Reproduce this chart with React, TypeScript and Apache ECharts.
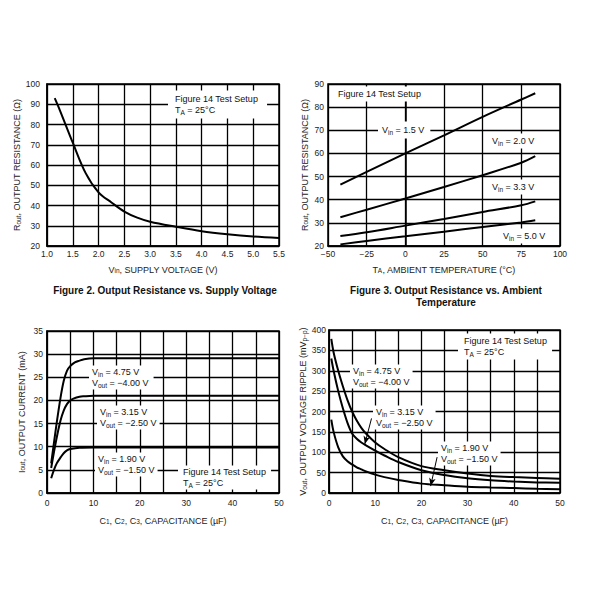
import React, { useEffect, useRef } from 'react';
import * as echarts from 'echarts';

const FONT = '"Liberation Sans", Arial, Helvetica, sans-serif';

// Figure 2: output resistance vs supply voltage
const fig2Vin = [1.15, 1.25, 1.5, 1.75, 2.0, 2.25, 2.5, 2.75, 3.0, 3.5, 4.0, 4.5, 5.0, 5.5];
const fig2Rout = [93, 87, 71, 56, 46.5, 41.5, 37, 34, 32, 29.5, 27.3, 25.8, 24.7, 24];

// Figure 3: output resistance vs ambient temperature
const fig3Temp = [-42, -25, 0, 25, 50, 75, 84];
const fig3Vin15 = [46.5, 52, 60, 67.8, 75.8, 83.3, 86];
const fig3Vin20 = [32.4, 35.7, 40.5, 45.5, 50.6, 56, 58.8];
const fig3Vin33 = [24.3, 25.9, 28.8, 31.7, 34.7, 37.6, 39.3];
const fig3Vin50 = [20.7, 22.2, 24.2, 26.2, 28.2, 30.2, 31.1];

// Output current vs capacitance
const iCap475 = [0.9, 2, 2.9, 3.6, 4.3, 5, 6, 7, 8, 10, 50];
const iOut475 = [6.4, 14.5, 20.5, 24.2, 26.4, 27.4, 28.2, 28.6, 28.9, 29.1, 29.1];
const iCap315 = [0.9, 2, 2.9, 3.6, 4.3, 5, 5.7, 7, 8, 10, 50];
const iOut315 = [5.4, 11.5, 15.6, 17.8, 19.2, 20, 20.4, 20.8, 20.9, 21, 21];
const iCap190 = [0.9, 1.5, 2.1, 3, 3.6, 4.3, 5, 7, 10, 50];
const iOut190 = [3.2, 5, 6.4, 7.8, 8.6, 9.2, 9.5, 9.8, 9.85, 9.85];

// Output voltage ripple vs capacitance
const rCap = [0.5, 1, 2, 3, 4, 5, 6, 7, 8, 10, 12, 15, 20, 25, 30, 35, 40, 45, 50];
const ripple475 = [378, 345, 300, 262, 228, 200, 178, 160, 146, 124, 108, 88, 66, 56, 48, 42, 39, 37, 35];
const ripple315 = [330, 300, 250, 208, 172, 146, 133, 124, 117, 104, 92, 76, 56, 44, 36, 31, 28, 26, 25];
const ripple190 = [180, 150, 112, 90, 78, 70, 63, 58, 53, 45, 39, 32, 23, 19, 15.5, 13.5, 12, 10.5, 9.5];

// annotation arrows (data coordinates of ripple chart)
const arrow315 = [[9.2, 183], [7.75, 120]];
const arrow190 = [[23.4, 88], [22, 17]];

const pairs = (xs: number[], ys: number[]) => xs.map((x, i) => [x, ys[i]]);

const richAxis = {
  s: { fontSize: 6.5, fontFamily: FONT, color: '#222', verticalAlign: 'bottom', lineHeight: 6 },
};
const richG = {
  s: { fontSize: 6.5, fontFamily: FONT, fill: '#111', verticalAlign: 'bottom', lineHeight: 6 },
};

const fmtNeg = (v: number) => (v < 0 ? '\u2212' + Math.abs(v) : String(v));

function xAxis(gi: number, min: number, max: number, interval: number, name: string, nameGap: number, margin: number, fmt: (v: number) => string) {
  return {
    type: 'value', gridIndex: gi, min, max, interval,
    name, nameLocation: 'middle', nameGap,
    nameTextStyle: { fontFamily: FONT, fontSize: 9, color: '#222', rich: richAxis },
    axisLine: { show: true, lineStyle: { color: '#000', width: 1.5 } },
    axisTick: { show: false },
    axisLabel: { fontFamily: FONT, fontSize: 8.5, color: '#222', margin, formatter: fmt, showMinLabel: true, showMaxLabel: true },
    splitLine: { show: true, lineStyle: { color: '#000', width: 1.3 } },
  };
}
function yAxis(gi: number, min: number, max: number, interval: number, name: string, nameGap: number, margin: number) {
  return {
    type: 'value', gridIndex: gi, min, max, interval,
    name, nameLocation: 'middle', nameGap, nameRotate: 90,
    nameTextStyle: { fontFamily: FONT, fontSize: 9, color: '#222', rich: richAxis },
    axisLine: { show: true, lineStyle: { color: '#000', width: 1.5 } },
    axisTick: { show: false },
    axisLabel: { fontFamily: FONT, fontSize: 8.5, color: '#222', margin },
    splitLine: { show: true, lineStyle: { color: '#000', width: 1.3 } },
  };
}

function line(xi: number, data: number[][], extra: any = {}) {
  return {
    type: 'line', xAxisIndex: xi, yAxisIndex: xi, data,
    smooth: 0.35, showSymbol: false, symbol: 'none',
    lineStyle: { color: '#000', width: 2 }, silent: true, z: 3,
    ...extra,
  };
}

function label(cx: number, cy: number, text: string, pad: number[] = [1, 3, 1, 3]) {
  return {
    type: 'text', x: cx - pad[3], y: cy - 5.5 - pad[0], z: 10,
    style: {
      text, fontFamily: FONT, fontSize: 9, fill: '#111', lineHeight: 11,
      backgroundColor: '#fff', padding: pad, align: 'left', verticalAlign: 'top', rich: richG,
    },
  };
}
function caption(cx: number, cy: number, text: string) {
  return {
    type: 'text', x: cx, y: cy, z: 10,
    style: { text, fontFamily: FONT, fontSize: 10, fontWeight: 'bold', fill: '#111', align: 'center', verticalAlign: 'middle' },
  };
}

function arrowLine(pts: number[][]) {
  return {
    silent: true, symbol: ['none', 'arrow'], symbolSize: [5, 8],
    lineStyle: { color: '#000', width: 1, type: 'solid' }, label: { show: false },
    data: [[{ coord: pts[0] }, { coord: pts[1] }]],
  };
}

const option: any = {
  animation: false,
  backgroundColor: '#fff',
  grid: [
    { left: 47, top: 84, width: 232, height: 162 },
    { left: 328, top: 84, width: 232, height: 162 },
    { left: 47, top: 331, width: 232, height: 162 },
    { left: 329, top: 330, width: 231, height: 163 },
  ].map((g) => ({ ...g, show: true, borderColor: '#000', borderWidth: 1.5, backgroundColor: 'transparent' })),
  xAxis: [
    xAxis(0, 1, 5.5, 0.5, 'V{s|in}, SUPPLY VOLTAGE (V)', 19, 3, (v) => v.toFixed(1)),
    xAxis(1, -50, 100, 25, 'T{s|A}, AMBIENT TEMPERATURE (\u00B0C)', 19, 3, fmtNeg),
    xAxis(2, 0, 50, 5, 'C{s|1}, C{s|2}, C{s|3}, CAPACITANCE (\u00B5F)', 23, 5, (v) => (v % 10 === 0 ? String(v) : '')),
    xAxis(3, 0, 50, 5, 'C{s|1}, C{s|2}, C{s|3}, CAPACITANCE (\u00B5F)', 23, 5, (v) => (v % 10 === 0 ? String(v) : '')),
  ],
  yAxis: [
    yAxis(0, 20, 100, 10, 'R{s|out}, OUTPUT RESISTANCE (\u03A9)', 20, 7),
    yAxis(1, 20, 90, 10, 'R{s|out}, OUTPUT RESISTANCE (\u03A9)', 19, 4),
    yAxis(2, 0, 35, 5, 'I{s|out}, OUTPUT CURRENT (mA)', 21, 4),
    yAxis(3, 0, 400, 50, 'V{s|out}, OUTPUT VOLTAGE RIPPLE (mV{s|p\u2212p})', 21, 3),
  ],
  series: [
    line(0, pairs(fig2Vin, fig2Rout)),
    line(1, pairs(fig3Temp, fig3Vin15)),
    line(1, pairs(fig3Temp, fig3Vin20)),
    line(1, pairs(fig3Temp, fig3Vin33)),
    line(1, pairs(fig3Temp, fig3Vin50)),
    line(2, pairs(iCap475, iOut475)),
    line(2, pairs(iCap315, iOut315)),
    line(2, pairs(iCap190, iOut190)),
    line(3, pairs(rCap, ripple475)),
    line(3, pairs(rCap, ripple315), { markLine: arrowLine(arrow315) }),
    line(3, pairs(rCap, ripple190), { markLine: arrowLine(arrow190) }),
  ],
  graphic: [
    // Figure 2
    label(175, 99, 'Figure 14 Test Setup\nT{s|A} = 25\u00B0C', [3, 9, 3, 7]),
    caption(165, 290, 'Figure 2. Output Resistance vs. Supply Voltage'),
    // Figure 3
    label(338, 94, 'Figure 14 Test Setup', [2, 5, 2, 5]),
    label(382, 130, 'V{s|in} = 1.5 V', [3, 6, 3, 4]),
    label(492, 141, 'V{s|in} = 2.0 V', [2, 3, 2, 3]),
    label(492, 187, 'V{s|in} = 3.3 V', [2, 3, 2, 3]),
    label(503, 236, 'V{s|in} = 5.0 V', [2, 3, 2, 3]),
    caption(446, 290, 'Figure 3. Output Resistance vs. Ambient'),
    caption(446, 302, 'Temperature'),
    // Output current
    label(92, 372, 'V{s|in} = 4.75 V\nV{s|out} = \u22124.00 V', [1, 5, 1, 3]),
    label(100, 412, 'V{s|in} = 3.15 V\nV{s|out} = \u22122.50 V', [1, 3, 1, 3]),
    label(98, 459, 'V{s|in} = 1.90 V\nV{s|out} = \u22121.50 V', [1, 3, 1, 3]),
    label(183, 472, 'Figure 14 Test Setup\nT{s|A} = 25\u00B0C', [1, 5, 1, 5]),
    // Ripple
    label(464, 341, 'Figure 14 Test Setup\nT{s|A} = 25\u00B0C', [2, 5, 2, 6]),
    label(353, 371, 'V{s|in} = 4.75 V\nV{s|out} = \u22124.00 V', [1, 3, 1, 3]),
    label(376, 412, 'V{s|in} = 3.15 V\nV{s|out} = \u22122.50 V', [1, 3, 1, 3]),
    label(441, 448, 'V{s|in} = 1.90 V\nV{s|out} = \u22121.50 V', [1, 3, 1, 3]),
  ],
};

export default function App() {
  const ref = useRef<HTMLDivElement>(null);
  useEffect(() => {
    const chart = echarts.init(ref.current!, null, { renderer: 'svg' });
    chart.setOption(option);
    return () => chart.dispose();
  }, []);
  return (
    <div
      ref={ref}
      style={{ position: 'fixed', left: 0, top: 0, width: 600, height: 600, background: '#fff' }}
    />
  );
}
